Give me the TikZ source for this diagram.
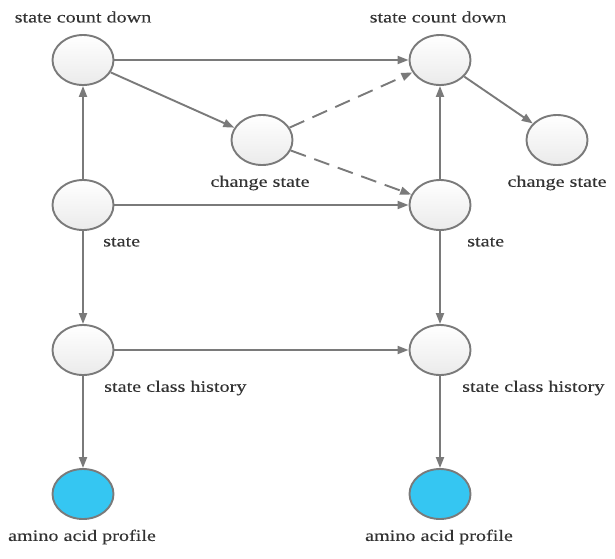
\documentclass[tikz,border=0pt]{standalone}
\usepackage{fontspec}
\setmainfont{Liberation Serif}[FakeStretch=1.26,FakeBold=0.2]
\usetikzlibrary{arrows.meta,shapes.geometric}
\definecolor{edgegray}{HTML}{7A7A7A}
\definecolor{nodecyan}{HTML}{35C6F2}
\tikzset{
  x=1pt,y=-1pt,
  state/.style={ellipse,draw=edgegray,line width=1.9pt,minimum width=61pt,minimum height=50pt,inner sep=0pt,
    top color=white,bottom color=black!8},
  amino/.style={state,top color=nodecyan,bottom color=nodecyan,fill=nodecyan},
  lbl/.style={font=\fontsize{16}{18}\selectfont,text=black!80,inner sep=0pt},
  conn/.style={draw=edgegray,line width=1.9pt,-{Triangle[length=11pt,width=8pt]}},
  dconn/.style={conn,dash pattern=on 16pt off 9pt},
}
\begin{document}
\begin{tikzpicture}
\useasboundingbox (0,0) rectangle (615,558);
\node[state] (scdL) at (83,60) {};
\node[state] (scdR) at (440,60) {};
\node[state] (csM) at (262,140) {};
\node[state] (csR) at (557,140) {};
\node[state] (stL) at (83,205) {};
\node[state] (stR) at (440,205) {};
\node[state] (schL) at (83,350) {};
\node[state] (schR) at (440,350) {};
\node[amino] (amL) at (83,494) {};
\node[amino] (amR) at (440,494) {};

\node[lbl] (tscdL) at (83,17) {state count down};
\node[lbl] (tscdR) at (438,17) {state count down};
\node[lbl] (tcsM) at (260,183) {change state};
\node[lbl] (tcsR) at (557,183) {change state};
\node[lbl,anchor=west] (tstL) at (103,242) {state};
\node[lbl,anchor=west] (tstR) at (467,242) {state};
\node[lbl,anchor=west] (tschL) at (104,388) {state class history};
\node[lbl,anchor=west] (tschR) at (462,388) {state class history};
\node[lbl] (tamL) at (82,537) {amino acid profile};
\node[lbl] (tamR) at (439,537) {amino acid profile};

\draw[conn] (scdL) -- (scdR);
\draw[conn] (scdL) -- (csM);
\draw[conn] (stL) -- (scdL);
\draw[dconn] (csM) -- (scdR);
\draw[dconn] (csM) -- (stR);
\draw[conn] (stR) -- (scdR);
\draw[conn] (scdR) -- (csR);
\draw[conn] (stL) -- (stR);
\draw[conn] (stL) -- (schL);
\draw[conn] (schL) -- (schR);
\draw[conn] (stR) -- (schR);
\draw[conn] (schL) -- (amL);
\draw[conn] (schR) -- (amR);
\end{tikzpicture}
\end{document}
